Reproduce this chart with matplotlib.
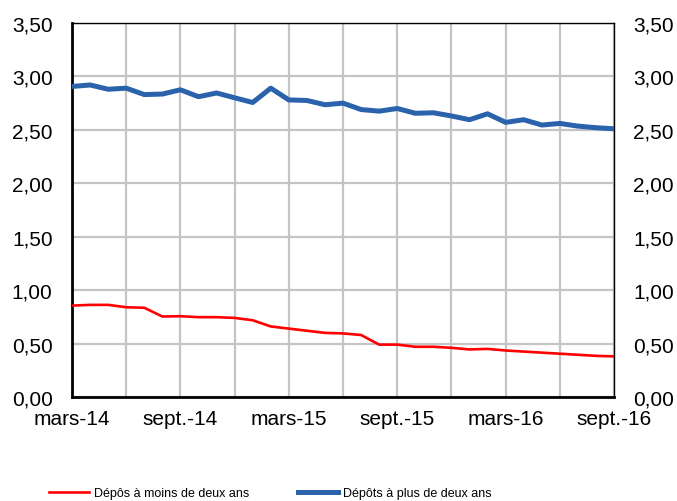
import numpy as np
import matplotlib
matplotlib.use('Agg')
import matplotlib.pyplot as plt

plt.rcParams['font.family'] = ['Liberation Sans', 'DejaVu Sans']

# monthly data, mars-14 .. sept.-16
mois = ['mars-14', 'avr.-14', 'mai-14', 'juin-14', 'juil.-14', 'août-14',
        'sept.-14', 'oct.-14', 'nov.-14', 'déc.-14', 'janv.-15', 'févr.-15',
        'mars-15', 'avr.-15', 'mai-15', 'juin-15', 'juil.-15', 'août-15',
        'sept.-15', 'oct.-15', 'nov.-15', 'déc.-15', 'janv.-16', 'févr.-16',
        'mars-16', 'avr.-16', 'mai-16', 'juin-16', 'juil.-16', 'août-16',
        'sept.-16']
moins_deux_ans = [0.855, 0.862, 0.862, 0.84, 0.835, 0.753, 0.756, 0.747, 0.747, 0.74,
                  0.718, 0.66, 0.64, 0.62, 0.60, 0.595, 0.58, 0.49, 0.49, 0.47,
                  0.47, 0.46, 0.445, 0.45, 0.435, 0.425, 0.415, 0.405, 0.395, 0.385,
                  0.38]
plus_deux_ans = [2.906, 2.92, 2.88, 2.89, 2.83, 2.835, 2.875, 2.81, 2.845, 2.80,
                 2.756, 2.89, 2.78, 2.775, 2.735, 2.75, 2.69, 2.675, 2.70, 2.655,
                 2.66, 2.63, 2.595, 2.65, 2.57, 2.595, 2.545, 2.56, 2.535, 2.52,
                 2.51]
yticks = [0, 0.5, 1.0, 1.5, 2.0, 2.5, 3.0, 3.5]

x = np.arange(len(mois))

fig = plt.figure(figsize=(6.77, 5.02), dpi=100)
ax = fig.add_axes([0.1064, 0.2072, 0.8006, 0.7450])

ax.plot(x, moins_deux_ans, color='#FF0000', lw=1.9, label='Dépôs à moins de deux ans', zorder=3)
ax.plot(x, plus_deux_ans, color='#2A63AC', lw=3.6, label='Dépôts à plus de deux ans', zorder=3)

ax.set_xlim(0, len(mois) - 1)
ax.set_ylim(0, 3.5)
ax.set_xticks(x[::6])
ax.set_xticklabels([mois[i] for i in x[::6]])
ax.set_xticks(x[::3], minor=True)
ax.set_yticks(yticks)
lbls = [('%.2f' % v).replace('.', ',') for v in yticks]
ax.set_yticklabels(lbls)

ax.grid(True, which='both', color='#C4C4C4', lw=1.6, zorder=0)
ax.set_axisbelow(True)
ax.tick_params(which='both', length=0)
ax.tick_params(axis='y', pad=14, labelsize=15)
ax.tick_params(axis='x', pad=9, labelsize=15)

for s in ['left', 'bottom']:
    ax.spines[s].set_linewidth(2.0)
for s in ['top', 'right']:
    ax.spines[s].set_linewidth(1.0)

ax2 = ax.twinx()
ax2.set_ylim(0, 3.5)
ax2.set_yticks(yticks)
ax2.set_yticklabels(lbls)
ax2.tick_params(length=0, pad=14, labelsize=15)
for s in ax2.spines.values():
    s.set_visible(False)

fig.legend(loc='center', bbox_to_anchor=(0.399, 0.016), ncol=2, frameon=False,
           fontsize=9, handlelength=3.2, handletextpad=0.4, columnspacing=3.9)

fig.savefig('out.png', dpi=100)
